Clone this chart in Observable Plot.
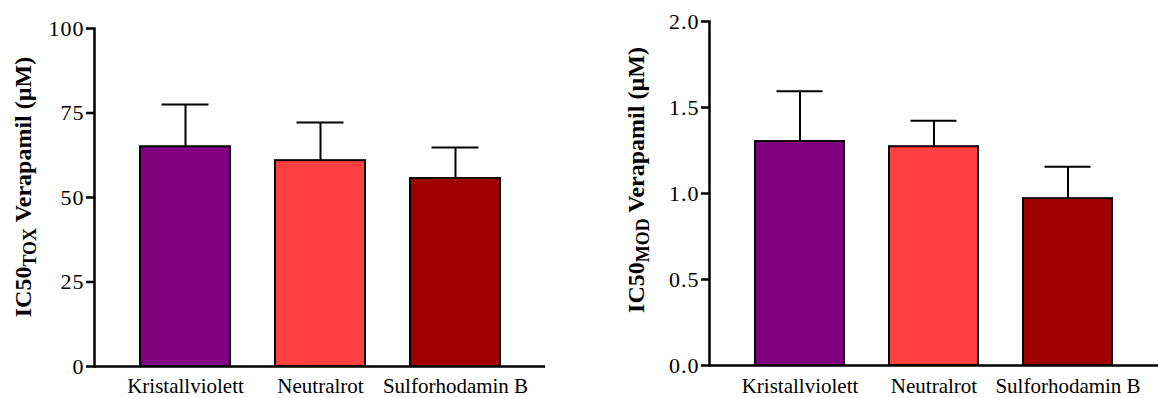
<!DOCTYPE html>
<html>
<head>
<meta charset="utf-8">
<script src="https://cdn.jsdelivr.net/npm/d3@7"></script>
<script src="https://cdn.jsdelivr.net/npm/@observablehq/plot@0.6"></script>
<style>
  html, body { margin: 0; padding: 0; background: white; }
  #wrap { display: flex; width: 1158px; height: 398px; }
  #wrap svg { display: block; overflow: visible; }
  #wrap svg text { font-family: 'Liberation Serif', 'Times New Roman', serif; }
</style>
</head>
<body>
<div id="wrap"></div>
<script>
const categories = ["Kristallviolett", "Neutralrot", "Sulforhodamin B"];
const barColors = ["#800080", "#FF4040", "#A00000"];

const toxMean = [65.0, 60.9, 55.6];
const toxErr = [12.5, 11.3, 9.2];
const toxTicks = [0, 25, 50, 75, 100];

const modMean = [1.302, 1.272, 0.970];
const modErr = [0.293, 0.151, 0.186];
const modTicks = [0.0, 0.5, 1.0, 1.5, 2.0];

const FONT = "Liberation Serif";

function chart({means, errs, ticks, yMax, tickFormat, marginLeft, marginRight, marginTop, marginBottom, xPad, sub, labelX, labelY}) {
  const data = categories.map((c, i) => ({cat: c, mean: means[i], err: errs[i]}));
  const svg = Plot.plot({
    width: 579,
    height: 398,
    marginLeft, marginRight, marginTop, marginBottom,
    style: {fontFamily: FONT, fontSize: "21px", color: "black", background: "white", overflow: "visible"},
    x: {domain: categories, paddingInner: 1/3, paddingOuter: 1/3, label: null},
    y: {domain: [0, yMax], label: null},
    color: {domain: categories, range: barColors},
    marks: [
      Plot.ruleX(data, {x: "cat", y1: "mean", y2: d => d.mean + d.err, stroke: "black", strokeWidth: 2}),
      Plot.tickY(data, {x: "cat", y: d => d.mean + d.err, stroke: "black", strokeWidth: 2, insetLeft: 21.5, insetRight: 21.5}),
      Plot.barY(data, {x: "cat", y: "mean", fill: "cat", stroke: "black", strokeWidth: 2}),
      Plot.axisY({ticks, tickFormat, tickSize: 8, tickPadding: 2, strokeWidth: 2.5, fontSize: 22, fontFamily: FONT, fill: "black", label: null}),
      Plot.axisX({tickSize: 0, tickPadding: xPad, fontSize: 21, fontFamily: FONT, fill: "black", label: null}),
      Plot.frame({anchor: "left", stroke: "black", strokeWidth: 2.5}),
      Plot.ruleY([0], {stroke: "black", strokeWidth: 2.5})
    ]
  });
  const s = d3.select(svg);
  s.selectAll("text").attr("font-family", FONT);
  s.selectAll('g[aria-label="y-axis tick label"] text').style("letter-spacing", "1px");
  const t = s.append("text")
    .attr("transform", `translate(${labelX},${labelY}) rotate(-90)`)
    .attr("text-anchor", "middle")
    .attr("font-family", FONT)
    .attr("font-weight", "bold")
    .attr("font-size", 24)
    .attr("fill", "black");
  t.append("tspan").text("IC50");
  t.append("tspan").attr("font-size", 18).attr("dy", 5).text(sub);
  t.append("tspan").attr("dy", -5).text(" Verapamil (µM)");
  return svg;
}

const wrap = document.getElementById("wrap");
wrap.appendChild(chart({
  means: toxMean, errs: toxErr, ticks: toxTicks, yMax: 100, tickFormat: d3.format("d"),
  marginLeft: 94, marginRight: 34, marginTop: 28, marginBottom: 32, xPad: 12,
  sub: "TOX", labelX: 31, labelY: 187
}));
wrap.appendChild(chart({
  means: modMean, errs: modErr, ticks: modTicks, yMax: 2, tickFormat: d3.format(".1f"),
  marginLeft: 130, marginRight: 0, marginTop: 21, marginBottom: 33, xPad: 13,
  sub: "MOD", labelX: 65, labelY: 180
}));
</script>
</body>
</html>
